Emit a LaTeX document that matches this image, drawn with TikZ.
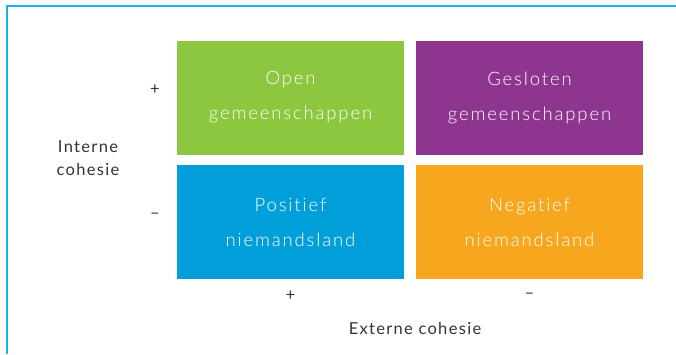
\documentclass[tikz,border=0pt]{standalone}
\usepackage{fontspec}
\setmainfont{Lato Light}[LetterSpace=10,Ligatures={NoCommon}]
\newfontfamily\labfont{Lato}[LetterSpace=8,Ligatures={TeX,NoCommon}]
\definecolor{kaderblauw}{HTML}{1DB0EA}
\definecolor{groen}{HTML}{8DC63F}
\definecolor{paars}{HTML}{8E358F}
\definecolor{blauw}{HTML}{009FDA}
\definecolor{oranje}{HTML}{F7A71E}
\definecolor{tekst}{HTML}{333333}
\begin{document}
\begin{tikzpicture}[x=1pt,y=-1pt,
  vak/.style={minimum width=227pt,minimum height=114pt,inner sep=0pt,
    text=white,align=center,font=\fontsize{18.5}{35}\selectfont},
  lab/.style={text=tekst,font=\labfont\fontsize{16.5}{23}\selectfont,align=center}]
\useasboundingbox (0,0) rectangle (676,354);
% kader
\draw[kaderblauw,line width=2pt] (676,6) -- (7,6) -- (7,354);
% de vier vakken
\node[vak,fill=groen] (open) at (290.5,97.5) {Open\\gemeenschappen};
\node[vak,fill=paars] (gesloten) at (529.5,97.5) {Gesloten\\gemeenschappen};
\node[vak,fill=blauw] (positief) at (290.5,222) {Positief\\niemandsland};
\node[vak,fill=oranje] (negatief) at (529.5,222) {Negatief\\niemandsland};
% assen
\node[lab] (iplus) at (155,90) {+};
\node[lab] (imin) at (155,216) {–};
\node[lab] (intern) at (88,158) {Interne\\cohesie};
\node[lab] (eplus) at (290.5,296) {+};
\node[lab] (emin) at (529.5,296) {–};
\node[lab] (extern) at (415,328) {Externe cohesie};
\end{tikzpicture}
\end{document}
